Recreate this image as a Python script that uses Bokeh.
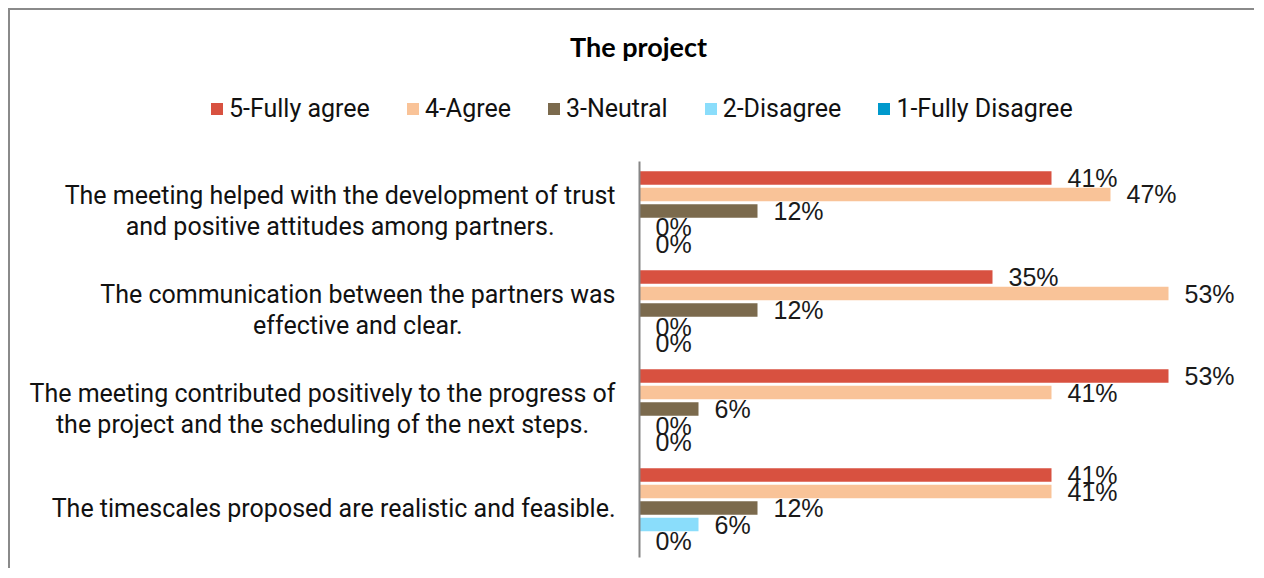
from bokeh.plotting import figure
from bokeh.models import Range1d, ColumnDataSource, Legend, LegendItem, Label
from bokeh.core.properties import value
from bokeh.embed import file_html
from bokeh.resources import INLINE

# ---- data ----
categories = [
    "The meeting helped with the development of trust\nand positive attitudes among partners.",
    "The communication between the partners was\neffective and clear.",
    "The meeting contributed positively to the progress of\nthe project and the scheduling of the next steps.",
    "The timescales proposed are realistic and feasible.",
]
series_names = ["5-Fully agree", "4-Agree", "3-Neutral", "2-Disagree", "1-Fully Disagree"]
fully_agree = [41.2, 35.3, 52.9, 41.2]
agree = [47.1, 52.9, 41.2, 41.2]
neutral = [11.8, 11.8, 5.9, 11.8]
disagree = [0.0, 0.0, 0.0, 5.9]
fully_disagree = [0.0, 0.0, 0.0, 0.0]
series_values = [fully_agree, agree, neutral, disagree, fully_disagree]
colors = ["#D85140", "#F9C398", "#7B6A4D", "#8ADDFB", "#0099CC"]

W, H = 1246, 560
p = figure(width=W, height=H, output_backend="svg", toolbar_location=None,
           x_range=Range1d(-62.9, 61.7), y_range=Range1d(3.631, -2.025),
           x_axis_location=None, y_axis_location=None,
           min_border=0, min_border_left=0, min_border_right=0,
           min_border_top=0, min_border_bottom=0)
p.grid.visible = False
p.outline_line_color = None
p.background_fill_color = "white"
p.border_fill_color = "white"
p.styles = {"margin-left": "8px", "margin-top": "8px",
            "border-left": "2px solid #8a8a8a", "border-top": "2px solid #8a8a8a"}

n_series = len(series_names)
pitch = 1.0 / 6.0
bar_h = 0.136
renderers = []
for k, (name, vals, col) in enumerate(zip(series_names, series_values, colors)):
    ys = [i + (k - (n_series - 1) / 2) * pitch for i in range(len(categories))]
    src = ColumnDataSource(dict(y=ys, v=vals, lab=[f"{v:.0f}%" for v in vals]))
    r = p.hbar(y="y", left=0, right="v", height=bar_h, source=src,
               fill_color=col, line_color=None)
    renderers.append(r)
    p.text(x="v", y="y", text="lab", source=src, x_offset=16,
           text_align="left", text_baseline="middle",
           text_font=value("Liberation Sans"), text_font_size="25px",
           text_color="#1a1a1a")

# axis line
p.segment(x0=[0], y0=[-0.5], x1=[0], y1=[len(categories) - 0.5],
          line_color="#868686", line_width=2)

# category labels
csrc = ColumnDataSource(dict(x=[0] * len(categories), y=list(range(len(categories))),
                             t=categories))
p.text(x="x", y="y", text="t", source=csrc, x_offset=-24,
       anchor="center_right", text_align="center", text_baseline="middle",
       text_font=value("Roboto"), text_font_size="25px", text_color="#111111",
       text_line_height=1.07)

# title
p.add_layout(Label(x=-0.1, y=-1.661, text="The project", text_align="center",
                   text_baseline="middle", text_font="Lato", text_font_style="bold",
                   text_font_size="27px", text_color="#000000"))

legend = Legend(items=[LegendItem(label=n, renderers=[r]) for n, r in zip(series_names, renderers)],
                orientation="horizontal", location=(199, 447),
                glyph_width=15, glyph_height=15, label_standoff=5, spacing=35,
                padding=0, margin=0, label_height=26,
                label_text_font="Roboto", label_text_font_size="25px",
                label_text_color="#111111",
                border_line_color=None, background_fill_alpha=0)
p.add_layout(legend)

open("out.html", "w").write(file_html(p, INLINE))
